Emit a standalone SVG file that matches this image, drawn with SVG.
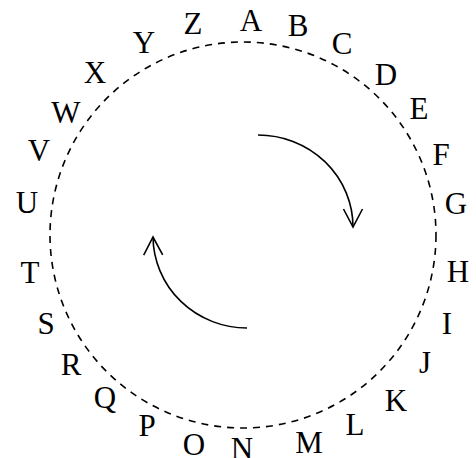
<svg xmlns="http://www.w3.org/2000/svg" width="476" height="458" viewBox="0 0 476 458">
<defs>
<style>
.lbl{font-family:"Liberation Serif","Times New Roman",serif;font-size:31px;fill:#000;text-anchor:middle}
.ring{fill:none;stroke:#000;stroke-width:1.6;stroke-dasharray:7,6}
.arc{fill:none;stroke:#000;stroke-width:1.6;marker-end:url(#open)}
</style>
<marker id="open" markerUnits="userSpaceOnUse" markerWidth="40" markerHeight="40" refX="0" refY="0" orient="auto" overflow="visible">
<path d="M-18,-9.5 L0,0 L-18,9.5" fill="none" stroke="#000" stroke-width="1.6"/>
</marker>
</defs>
<rect width="476" height="458" fill="#fff"/>
<g id="ring"><circle class="ring" cx="243" cy="235" r="193"/></g>
<g id="connectors">
<path class="arc" d="M258,135 A95,92 0 0 1 353,227"/>
<path class="arc" d="M247,328 A94,92 0 0 1 153,237"/>
</g>
<g id="letters">
<g id="A"><text class="lbl" x="251" y="31">A</text></g>
<g id="B"><text class="lbl" x="298" y="36">B</text></g>
<g id="C"><text class="lbl" x="342" y="54">C</text></g>
<g id="D"><text class="lbl" x="386" y="85">D</text></g>
<g id="E"><text class="lbl" x="419" y="119">E</text></g>
<g id="F"><text class="lbl" x="441" y="165">F</text></g>
<g id="G"><text class="lbl" x="456" y="214">G</text></g>
<g id="H"><text class="lbl" x="458" y="282">H</text></g>
<g id="I"><text class="lbl" x="447" y="334">I</text></g>
<g id="J"><text class="lbl" x="425" y="373">J</text></g>
<g id="K"><text class="lbl" x="396" y="411">K</text></g>
<g id="L"><text class="lbl" x="355" y="435">L</text></g>
<g id="M"><text class="lbl" x="309" y="453">M</text></g>
<g id="N"><text class="lbl" x="242" y="459">N</text></g>
<g id="O"><text class="lbl" x="194" y="455">O</text></g>
<g id="P"><text class="lbl" x="147" y="436">P</text></g>
<g id="Q"><text class="lbl" x="105" y="408">Q</text></g>
<g id="R"><text class="lbl" x="71" y="375">R</text></g>
<g id="S"><text class="lbl" x="46" y="334">S</text></g>
<g id="T"><text class="lbl" x="30" y="283">T</text></g>
<g id="U"><text class="lbl" x="27" y="213">U</text></g>
<g id="V"><text class="lbl" x="39" y="161">V</text></g>
<g id="W"><text class="lbl" x="66" y="123">W</text></g>
<g id="X"><text class="lbl" x="95" y="83">X</text></g>
<g id="Y"><text class="lbl" x="144" y="53">Y</text></g>
<g id="Z"><text class="lbl" x="193" y="34">Z</text></g>
</g>
</svg>
